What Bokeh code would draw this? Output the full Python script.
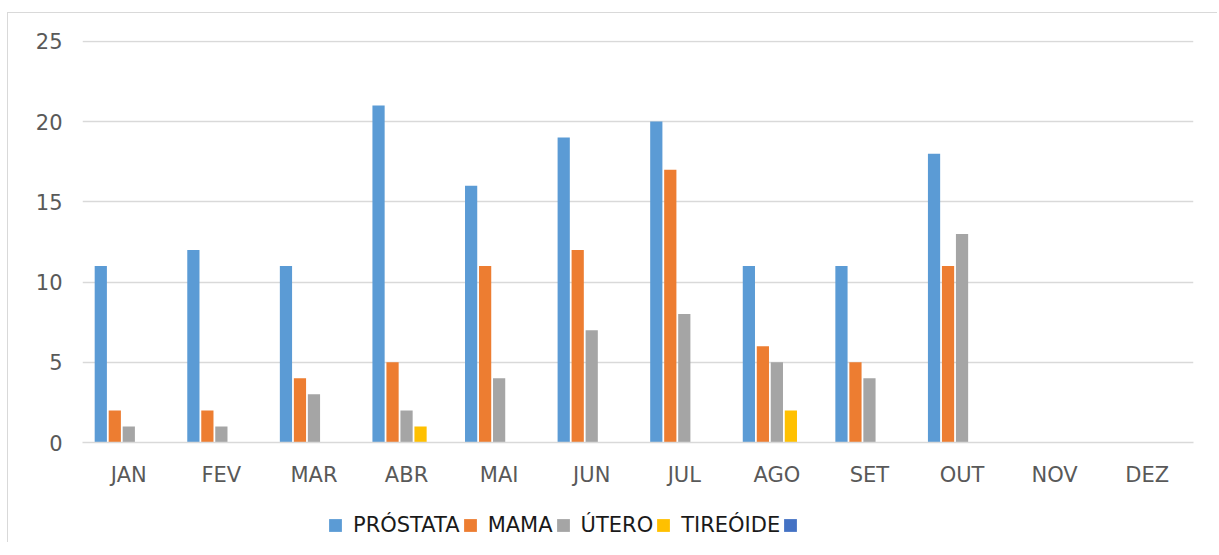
from bokeh.plotting import figure
from bokeh.models import ColumnDataSource, FactorRange, Legend, LegendItem
from bokeh.layouts import column
from bokeh.transform import dodge
from bokeh.embed import file_html
from bokeh.resources import INLINE

months = ["JAN", "FEV", "MAR", "ABR", "MAI", "JUN", "JUL", "AGO", "SET", "OUT", "NOV", "DEZ"]
prostata = [11, 12, 11, 21, 16, 19, 20, 11, 11, 18, None, None]
mama = [2, 2, 4, 5, 11, 12, 17, 6, 5, 11, None, None]
utero = [1, 1, 3, 2, 4, 7, 8, 5, 4, 13, None, None]
tireoide = [0, 0, 0, 1, 0, 0, 0, 2, 0, 0, None, None]
extra = [None] * 12
series_names = ["PRÓSTATA", "MAMA", "ÚTERO", "TIREÓIDE", " "]
series_values = [prostata, mama, utero, tireoide, extra]
colors = ["#5B9BD5", "#ED7D31", "#A5A5A5", "#FFC000", "#4472C4"]
y_ticks = [0, 5, 10, 15, 20, 25]

data = {"month": months}
keys = ["s0", "s1", "s2", "s3", "s4"]
for k, vals in zip(keys, series_values):
    data[k] = [float("nan") if v is None else v for v in vals]
source = ColumnDataSource(data)

FONT = "DejaVu Sans"
p = figure(
    x_range=FactorRange(factors=months, range_padding=0),
    y_range=(0, 25.05),
    frame_width=1111, frame_height=402,
    output_backend="svg", toolbar_location=None,
    min_border_left=74, min_border_right=24, min_border_top=27, min_border_bottom=60,
)
p.outline_line_color = None
p.background_fill_color = "white"
p.border_fill_color = "white"

step = 0.1512
bw = 0.132
for i, (k, c) in enumerate(zip(keys, colors)):
    p.vbar(x=dodge("month", (i - 2) * step, range=p.x_range), top=k, bottom=0,
           width=bw, source=source, fill_color=c, line_color=None)

p.yaxis.ticker = y_ticks
p.ygrid.grid_line_color = "#D9D9D9"
p.ygrid.grid_line_width = 1.3
p.xgrid.grid_line_color = None
p.yaxis.axis_line_color = None
p.yaxis.major_tick_line_color = None
p.yaxis.minor_tick_line_color = None
p.yaxis.major_tick_out = 0
p.yaxis.major_label_standoff = 20
p.yaxis.major_label_text_font = FONT
p.yaxis.major_label_text_font_size = "21px"
p.yaxis.major_label_text_color = "#595959"

p.xaxis.axis_line_color = "#D9D9D9"
p.xaxis.axis_line_width = 1.3
p.xaxis.major_tick_line_color = None
p.xaxis.minor_tick_line_color = None
p.xaxis.major_tick_out = 0
p.xaxis.major_label_standoff = 20
p.xaxis.major_label_text_font = FONT
p.xaxis.major_label_text_font_size = "21px"
p.xaxis.major_label_text_color = "#595959"

# Legend strip (bars of this strip lie outside its visible range; only the legend shows)
lg = figure(
    x_range=FactorRange(factors=months, range_padding=0),
    y_range=(100, 200),
    width=1209, height=40,
    output_backend="svg", toolbar_location=None,
    x_axis_location=None, y_axis_location=None,
    min_border_left=0, min_border_right=0, min_border_top=0, min_border_bottom=0,
)
lg.outline_line_color = None
lg.grid.visible = False
lg_renderers = []
for i, (k, c) in enumerate(zip(keys, colors)):
    r = lg.vbar(x=dodge("month", (i - 2) * step, range=lg.x_range), top=k, bottom=0,
                width=bw, source=source, fill_color=c, line_color=None)
    lg_renderers.append(r)

items = [LegendItem(label=n, renderers=[r]) for n, r in zip(series_names, lg_renderers)]
legend = Legend(items=items, orientation="horizontal", location=(245, 5),
                glyph_width=16, glyph_height=16, label_standoff=10, spacing=2,
                padding=0, margin=0, border_line_color=None, background_fill_alpha=0,
                label_text_font=FONT, label_text_font_size="21px",
                label_text_color="#1A1A1A", label_height=20)
lg.add_layout(legend, "center")

layout = column(p, lg, spacing=0)
layout.styles = {"margin-left": "7px", "margin-top": "12px",
                 "border-left": "1px solid #D9D9D9", "border-top": "1px solid #D9D9D9"}

open("out.html", "w").write(file_html(layout, INLINE))
